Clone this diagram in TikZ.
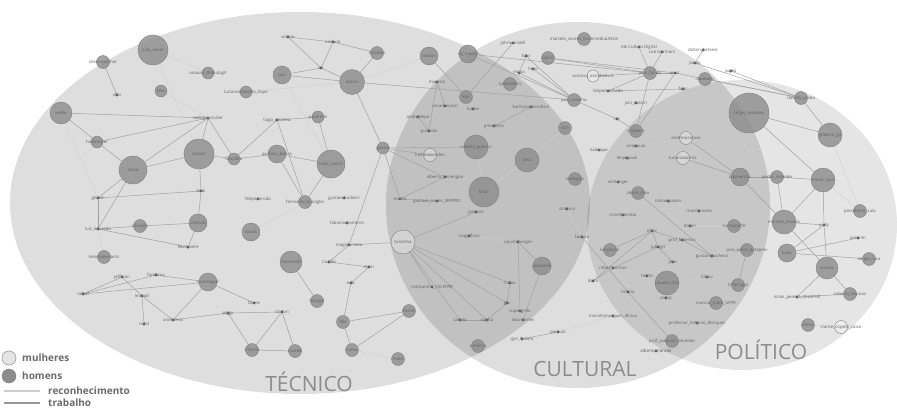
\documentclass[tikz,border=0pt]{standalone}
\usepackage{fontspec}
\setmainfont{Open Sans}

\pgfdeclarelayer{fundo}
\pgfdeclarelayer{arestas}
\pgfsetlayers{fundo,arestas,main}

\tikzset{
  homem/.style={circle, inner sep=0pt, fill=black!45, fill opacity=0.8, draw=black!50, line width=0.4pt},
  mulher/.style={circle, inner sep=0pt, fill=white, fill opacity=0.3, draw=black!45, line width=0.5pt},
  ponto/.style={circle, inner sep=0pt, minimum size=3.2pt, fill=black!60},
  rotulo/.style={font=\fontsize{4.3}{5}\selectfont, text=black!62, inner sep=0pt, opacity=1},
  h/.style 2 args={homem, minimum size=#1, label={[rotulo]center:#2}},
  m/.style 2 args={mulher, minimum size=#1, label={[rotulo]center:#2}},
  d/.style={ponto, label={[rotulo]center:#1}},
  trab/.style={black!37, line width=0.5pt},
  reco/.style={black!18, line width=0.4pt},
  area/.style={fill=black, fill opacity=#1},
  eixo/.style={font=\fontsize{21}{24}\selectfont, text=black!45},
  legenda/.style={font=\fontsize{10}{12}\selectfont\bfseries, text=black!58, anchor=west, inner sep=0pt},
}

\begin{document}
\begin{tikzpicture}[x=1pt, y=-1pt]
  \useasboundingbox (0,0) rectangle (897,410);

  % as tres areas
  \begin{pgfonlayer}{fundo}
    \fill[white] (0,0) rectangle (897,410);
    \fill[area=0.13] (300,203) ellipse [x radius=290, y radius=191];
    \fill[area=0.13] (578,205) ellipse [x radius=192, y radius=183];
    \fill[area=0.10] (742,225) ellipse [x radius=155, y radius=145];
  \end{pgfonlayer}

  % tecnico
  \node[h={30}{julio\_neves}] (julio) at (153,50) {};
  \node[h={13}{dreamcatcher}] (dreamcatcher) at (103,62) {};
  \node[d=dito] (dito) at (117,95) {};
  \node[h={12}{kiko}] (kiko) at (161,91) {};
  \node[h={12}{anauan\_dtdaulagit}] (anauan) at (208,73) {};
  \node[h={22}{verde}] (verde) at (61,113) {};
  \node[d=rodrigo\_stulzer] (rodrigo) at (208,118) {};
  \node[h={12}{lucianoeduardo\_Zope}] (luciano) at (246,92) {};
  \node[h={12}{hackmeyer}] (hackmeyer) at (97,142) {};
  \node[h={28}{acme}] (acme) at (133,170) {};
  \node[h={30}{tessari}] (tessari) at (199,154) {};
  \node[h={12}{fobulero}] (fobulero) at (234,159) {};
  \node[d=bolo] (bolo) at (201,191) {};
  \node[d=glober] (glober) at (98,198) {};
  \node[h={18}{chehab}] (chehab) at (198,223) {};
  \node[h={13}{rosanes}] (rosanes) at (140,226) {};
  \node[d=luiz\_eduardo] (luizeduardo) at (98,229) {};
  \node[d=flaviopiere] (flaviopiere) at (188,247) {};
  \node[h={13}{henriquemarks}] (henrique) at (104,257) {};
  \node[d=valerio] (valerio) at (288,37) {};
  \node[d=sodium] (sodium) at (333,42) {};
  \node[h={13}{farcesio}] (farcesio) at (377,53) {};
  \node[h={18}{taw}] (taw) at (282,75) {};
  \node[d=str] (str) at (321,68) {};
  \node[h={25}{otavio}] (otavio) at (352,82) {};
  \node[h={18}{macan}] (macan) at (429,56) {};
  \node[d=maestot] (maestot) at (437,82) {};
  \node[d=cesarbouron] (cesar) at (445,106) {};
  \node[d=andrefelipe] (andrefelipe) at (418,117) {};
  \node[d=guidodo] (guidodo) at (429,131) {};
  \node[d=tiago\_pisciera] (tiago) at (277,120) {};
  \node[h={12}{pacernini}] (pacernini) at (318,117) {};
  \node[h={18}{gustavo\_bolica}] (gustavobolica) at (277,154) {};
  \node[h={28}{helio\_castro}] (helio) at (331,164) {};
  \node[h={12}{gberto}] (gberto) at (383,148) {};
  \node[d=felipemiruda] (felipemiruda) at (258,199) {};
  \node[h={13}{fernando\_bonaglio}] (fernando) at (305,202) {};
  \node[d=gustavobarbieri] (gustavobarbieri) at (344,198) {};
  \node[d=fabianomonteiro] (fabiano) at (347,223) {};
  \node[h={18}{ibradi}] (ibradi) at (251,232) {};
  \node[d=magoferreira] (magoferreira) at (349,245) {};
  \node[h={22}{marimate}] (marimate) at (291,262) {};
  \node[d=Cuzido] (cuzido) at (329,262) {};
  \node[d=mosi] (mosi) at (369,267) {};
  \node[d=rafael] (rafael) at (83,294) {};
  \node[d=jeffman] (jeffman) at (122,277) {};
  \node[d=facebruy] (facebruy) at (156,275) {};
  \node[h={18}{sandrograf}] (sandrograf) at (208,282) {};
  \node[d=leobad] (leobad) at (142,296) {};
  \node[d=nidal] (nidal) at (144,324) {};
  \node[d=arielvieira] (arielvieira) at (173,320) {};
  \node[d=piggy] (piggy) at (228,313) {};
  \node[d=Dione] (dione) at (254,303) {};
  \node[d=claiton] (claiton) at (282,312) {};
  \node[h={13}{fritome}] (fritome) at (252,350) {};
  \node[h={13}{ricardo}] (ricardo) at (295,351) {};
  \node[h={13}{hilango}] (hilango) at (317,301) {};
  \node[d=edo] (edo) at (351,283) {};
  \node[h={13}{fika}] (fika) at (343,322) {};
  \node[h={13}{suleo}] (suleo) at (352,350) {};
  \node[h={13}{Farrel}] (farrel) at (409,311) {};
  \node[h={13}{mato}] (mato) at (398,359) {};

  % cultural
  \node[m={13}{hamdawenden}] (hamdawenden) at (430,155) {};
  \node[d=alberto\_benengoa] (alberto) at (445,177) {};
  \node[d=marko] (marko) at (400,199) {};
  \node[d=gustavo\_torres\_SEPPRO] (gustavotorres) at (437,201) {};
  \node[m={24}{toskinha}] (toskinha) at (403,242) {};
  \node[d=marquinho\_CELEPAR] (marquinho) at (432,287) {};
  \node[d=johnwendell] (johnwendell) at (513,43) {};
  \node[h={13}{marcelo\_soares\_multimediaLINUX}] (marcelosoares) at (584,39) {};
  \node[d=Ale Cultura Digital] (ale) at (639,47) {};
  \node[d=Leo Germani] (leo) at (662,52) {};
  \node[h={18}{dg\_marad}] (dgmarad) at (468,54) {};
  \node[d=fubs] (fubs) at (526,56) {};
  \node[h={13}{palmi}] (palmi) at (548,58) {};
  \node[d=hrao] (hrao) at (533,69) {};
  \node[d=mopo] (mopo) at (519,73) {};
  \node[h={13}{cybernetics}] (cybernetics) at (510,84) {};
  \node[h={13}{jean\_fanob}] (jeanfanob) at (650,73) {};
  \node[m={12}{vanessa\_estudiolivre}] (vanessa) at (593,76) {};
  \node[d=felipemachado] (felipemachado) at (608,91) {};
  \node[h={13}{kav}] (kav) at (466,97) {};
  \node[h={13}{puri\_cavalho}] (puri) at (574,100) {};
  \node[d=josi\_Cassiri] (josi) at (636,103) {};
  \node[d=hatisa] (hatisa) at (473,109) {};
  \node[d=karlissonmendson] (karlisson) at (531,107) {};
  \node[d=pmarteles] (pmarteles) at (494,126) {};
  \node[h={13}{srch}] (srch) at (565,128) {};
  \node[d=rac] (rac) at (617,119) {};
  \node[h={13}{crisbeiro}] (crisbeiro) at (636,131) {};
  \node[h={24}{rubens\_queiroz}] (rubens) at (476,147) {};
  \node[h={24}{oliva}] (oliva) at (527,160) {};
  \node[h={30}{brian}] (brian) at (484,192) {};
  \node[d=kaduque] (kaduque) at (599,150) {};
  \node[d=anapaula] (anapaula) at (636,146) {};
  \node[d=felipepaoli] (felipepaoli) at (627,158) {};
  \node[h={13}{rodinglas}] (rodinglas) at (575,179) {};
  \node[d=whitenger] (whitenger) at (618,182) {};
  \node[h={13}{jomar\_silva}] (jomar) at (638,193) {};
  \node[d=sindima] (sindima) at (567,209) {};
  \node[d=ricardobimbo] (ricardobimbo) at (623,215) {};
  \node[d=jaiakazz] (jaiakazz) at (476,212) {};
  \node[d=magofluxu] (magofluxu) at (469,236) {};
  \node[d=claudioborges] (claudioborges) at (518,242) {};
  \node[d=kaduca] (kaduca) at (582,237) {};
  \node[d=efosi] (efosi) at (652,231) {};
  \node[d=jubrigil] (jubrigil) at (658,247) {};
  \node[h={13}{kenjikaati}] (kenjikaati) at (610,250) {};
  \node[h={18}{pierpaolo}] (pierpaolo) at (542,266) {};
  \node[d=robertosimon] (robertosimon) at (613,268) {};
  \node[d=Caibo] (caibo) at (510,283) {};
  \node[d=gbi] (gbi) at (507,303) {};
  \node[d=supergrillo] (supergrillo) at (520,311) {};
  \node[d=edumantes] (edumantes) at (523,320) {};
  \node[d=cabola] (cabola) at (460,320) {};
  \node[d=kapha] (kapha) at (487,320) {};
  \node[h={13}{cinterno}] (cinterno) at (478,346) {};
  \node[d=paraula] (paraula) at (558,332) {};
  \node[d=igor\_fedora] (igor) at (522,339) {};
  \node[d=marcelomarques\_4linux] (marcelomarques) at (613,316) {};
  \node[d=dami] (dami) at (593,281) {};
  \node[d=hobria] (hobria) at (628,292) {};
  \node[d=helrto] (helrto) at (647,276) {};
  \node[h={24}{claudio\_fino}] (claudiofino) at (667,283) {};
  \node[d=pietip] (pietip) at (666,298) {};
  \node[d=albertoandrade] (albertoandrade) at (656,351) {};
  \node[h={13}{prof\_joaquim\_valverde}] (profjoaquim) at (672,341) {};

  % politico
  \node[d=dalton\_betarec] (dalton) at (703,50) {};
  \node[d=paulo] (paulo) at (695,63) {};
  \node[d=paul] (paul) at (675,73) {};
  \node[d=pajeú] (pajeu) at (731,71) {};
  \node[h={13}{caparaba}] (caparaba) at (705,79) {};
  \node[d=fabs] (fabs) at (683,89) {};
  \node[h={13}{claudio\_prado}] (claudioprado) at (801,98) {};
  \node[h={40}{sergio\_amadeu}] (sergioamadeu) at (749,113) {};
  \node[h={24}{gilberto\_gil}] (gilberto) at (830,135) {};
  \node[m={13}{andresasarava}] (andresasarava) at (686,138) {};
  \node[m={13}{lucianabarros}] (lucianabarros) at (683,158) {};
  \node[h={18}{pipaventas}] (pipaventas) at (740,177) {};
  \node[h={13}{pedro\_rezende}] (pedro) at (777,177) {};
  \node[h={24}{mario\_teza}] (mario) at (823,180) {};
  \node[d=robsonpavan] (robsonpavan) at (668,201) {};
  \node[d=ricardorivera] (ricardorivera) at (699,211) {};
  \node[h={13}{presidente\_Lula}] (lula) at (860,211) {};
  \node[d=dilson] (dilson) at (690,226) {};
  \node[h={13}{comtonaffe}] (comtonaffe) at (734,226) {};
  \node[h={24}{marcelo\_branco}] (marcelobranco) at (784,222) {};
  \node[d=yudy] (yudy) at (824,225) {};
  \node[d=amorim] (amorim) at (858,238) {};
  \node[d=prof\_federico] (proffederico) at (682,240) {};
  \node[h={13}{jose\_peres\_dataprev}] (joseperes) at (747,250) {};
  \node[d=gustavopacheco] (gustavopacheco) at (712,256) {};
  \node[h={18}{kuhn}] (kuhn) at (787,253) {};
  \node[h={13}{sergio\_rosa}] (sergiorosa) at (869,259) {};
  \node[h={22}{mazoni}] (mazoni) at (827,268) {};
  \node[d=jean] (jean) at (673,262) {};
  \node[d=fulinu] (fulinu) at (707,277) {};
  \node[h={13}{S.Portugal}] (sportugal) at (738,285) {};
  \node[h={13}{marcos\_mota\_UFPR}] (marcosmota) at (716,303) {};
  \node[d=professor\_Antonio\_Marques] (professor) at (697,323) {};
  \node[d=nizan\_pereira\_CELEPAR] (nizan) at (797,297) {};
  \node[h={13}{roberto\_requiao}] (requiao) at (850,294) {};
  \node[h={13}{dilma}] (dilma) at (808,325) {};
  \node[m={13}{clarice\_copetti\_caixa}] (clarice) at (841,327) {};

  \begin{pgfonlayer}{arestas}
    % reconhecimento
    \foreach \a/\b in {julio/tessari, julio/anauan, kiko/rodrigo, verde/glober, luciano/otavio,
        taw/helio, macan/otavio, ibradi/fernando, henrique/luizeduardo, oliva/brian, brian/rubens,
        sindima/kaduca, ricardobimbo/jomar, whitenger/jomar, felipepaoli/kaduque, anapaula/andresasarava,
        lula/mario, dilma/clarice, comtonaffe/dilson, gilberto/lula, sergioamadeu/pipaventas,
        magofluxu/claudioborges, mato/suleo, marcelomarques/paraula, albertoandrade/profjoaquim,
        srch/oliva, cybernetics/kav, robsonpavan/ricardorivera, marcosmota/professor, claudiofino/fulinu}
      \draw[reco] (\a) -- (\b);
    % trabalho
    \foreach \a/\b in {dreamcatcher/dito, verde/rodrigo, verde/hackmeyer, hackmeyer/rodrigo,
        acme/rodrigo, tessari/rodrigo, rodrigo/fobulero, hackmeyer/acme, acme/tessari, acme/glober,
        acme/luizeduardo, glober/bolo, glober/luizeduardo, tessari/bolo, bolo/chehab,
        luizeduardo/rosanes, rosanes/chehab, luizeduardo/flaviopiere, chehab/flaviopiere,
        tessari/fobulero, fobulero/gustavobolica, gustavobolica/helio, gustavobolica/fernando,
        helio/fernando, tiago/pacernini, tiago/fernando, tiago/fobulero, helio/pacernini,
        valerio/sodium, sodium/farcesio, valerio/str, sodium/str, taw/str, taw/otavio, str/otavio,
        farcesio/otavio, otavio/puri, otavio/gberto, gberto/magoferreira, gberto/hamdawenden,
        gberto/marko, gberto/alberto, magoferreira/cuzido, magoferreira/toskinha, cuzido/mosi,
        mosi/edo, edo/fika, fika/farrel, fika/suleo, suleo/farrel, marimate/hilango,
        sandrograf/dione, piggy/claiton, piggy/fritome, claiton/fritome, claiton/ricardo,
        fritome/ricardo, jeffman/rafael, rafael/facebruy, rafael/sandrograf, jeffman/leobad,
        leobad/nidal, leobad/arielvieira, arielvieira/sandrograf, arielvieira/piggy,
        facebruy/sandrograf, maestot/guidodo, maestot/cesar, andrefelipe/guidodo, macan/kav,
        rubens/gberto, dgmarad/puri, dgmarad/jeanfanob, johnwendell/kav, fubs/mopo, fubs/puri,
        hrao/puri, mopo/puri, palmi/jeanfanob, palmi/paul, jeanfanob/ale, jeanfanob/leo,
        jeanfanob/vanessa, jeanfanob/felipemachado, jeanfanob/crisbeiro, jeanfanob/paul, puri/rac,
        rac/crisbeiro, felipemachado/fabs, karlisson/pmarteles, paul/crisbeiro, dalton/paulo,
        paulo/claudioprado, pajeu/claudioprado, paul/claudioprado, caparaba/claudioprado,
        claudioprado/gilberto, sergioamadeu/gilberto, sergioamadeu/mario, toskinha/kapha,
        toskinha/caibo, toskinha/cabola, toskinha/gbi, toskinha/marquinho, toskinha/jaiakazz,
        marko/gustavotorres, alberto/marko, claudioborges/pierpaolo, claudioborges/supergrillo,
        pierpaolo/edumantes, caibo/gbi, gbi/kapha, cabola/kapha, paraula/igor, kaduca/hobria,
        hobria/profjoaquim, dami/robertosimon, dami/efosi, efosi/kenjikaati, efosi/jubrigil,
        efosi/proffederico, jubrigil/jean, jubrigil/robertosimon, jomar/gustavopacheco,
        proffederico/gustavopacheco, pipaventas/andresasarava, pipaventas/lucianabarros,
        pipaventas/pedro, pipaventas/marcelobranco, pedro/mario, pedro/marcelobranco,
        marcelobranco/mario, mario/yudy, marcelobranco/yudy, yudy/kuhn, yudy/mazoni, kuhn/amorim,
        kuhn/sergiorosa, marcelobranco/mazoni, joseperes/sportugal, mazoni/nizan, mazoni/requiao,
        nizan/requiao}
      \draw[trab] (\a) -- (\b);
  \end{pgfonlayer}

  % nomes das areas
  \node[eixo] (tecnico) at (309,382) {TÉCNICO};
  \node[eixo] (cultural) at (585,369) {CULTURAL};
  \node[eixo] (politico) at (761,350) {POLÍTICO};

  % legenda
  \node[mulher, minimum size=14, fill=black!10, fill opacity=1] (legmulher) at (9,358) {};
  \node[legenda] at (22,358) {mulheres};
  \node[homem, minimum size=14, fill opacity=1] (leghomem) at (9,376) {};
  \node[legenda] at (22,376) {homens};
  \coordinate (reco1) at (4,391);
  \coordinate (reco2) at (40,391);
  \draw[black!20, line width=2pt] (reco1) -- (reco2);
  \node[legenda] at (48,391) {reconhecimento};
  \coordinate (trab1) at (4,403);
  \coordinate (trab2) at (40,403);
  \draw[black!40, line width=2pt] (trab1) -- (trab2);
  \node[legenda] at (48,403) {trabalho};
\end{tikzpicture}
\end{document}
